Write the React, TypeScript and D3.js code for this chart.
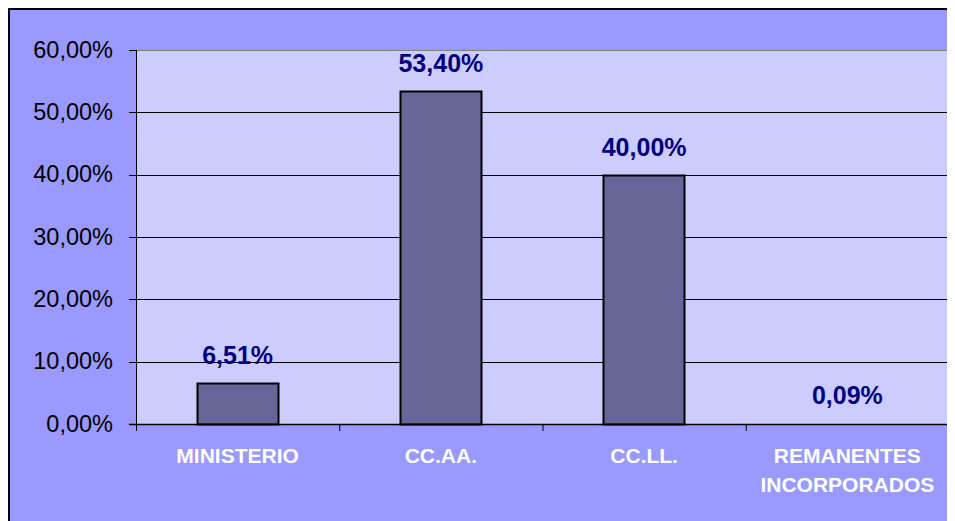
import React from "react";
import * as d3 from "d3";

const categories = ["MINISTERIO", "CC.AA.", "CC.LL.", "REMANENTES\nINCORPORADOS"];
const values = [0.0651, 0.534, 0.4, 0.0009];
const valueLabels = ["6,51%", "53,40%", "40,00%", "0,09%"];
const yTicks = [0, 0.1, 0.2, 0.3, 0.4, 0.5, 0.6];
const yTickLabels = ["0,00%", "10,00%", "20,00%", "30,00%", "40,00%", "50,00%", "60,00%"];

const W = 947;
const H = 513;
const left = 128; // plot left relative to svg (page x 136)
const right = 941; // page x 949
const top = 42; // page y 50
const bottom = 416; // page y 424
const font = "'Liberation Sans', Arial, sans-serif";

export default function App() {
  const x = d3.scaleBand<string>().domain(categories).range([left, right]).paddingInner(0.6).paddingOuter(0.3);
  const y = d3.scaleLinear().domain([0, 0.6]).range([bottom, top]);
  const step = x.step();
  return (
    <svg width={W} height={H} style={{ display: "block" }}>
      <rect x={1} y={1} width={W + 20} height={H + 20} fill="#9999ff" stroke="#000" strokeWidth={2} />
      <rect x={left} y={top} width={right - left} height={bottom - top} fill="#ccccff" />
      {yTicks.map((t, i) => (
        <g key={i}>
          {t > 0 && t < 0.6 && (
            <line x1={left} x2={right} y1={Math.round(y(t)) + 0.5} y2={Math.round(y(t)) + 0.5} stroke="#000" strokeWidth={1} />
          )}
          <line x1={left - 7} x2={left} y1={Math.round(y(t)) + 0.5} y2={Math.round(y(t)) + 0.5} stroke="#000" />
          <text x={left - 23} y={y(t) + 7.5} textAnchor="end" fontFamily={font} fontSize={23.5} fill="#000">
            {yTickLabels[i]}
          </text>
        </g>
      ))}
      <line x1={left} x2={right} y1={top + 0.5} y2={top + 0.5} stroke="#808080" />
      <line x1={right - 0.5} x2={right - 0.5} y1={top} y2={bottom} stroke="#808080" />
      {categories.map((c, i) => {
        const bx = x(c)!;
        const bw = x.bandwidth();
        const by = y(values[i]);
        return (
          <g key={c}>
            {values[i] > 0.002 && (
              <rect x={Math.round(bx) + 0.5} y={Math.round(by) + 0.5} width={Math.round(bw)} height={bottom - Math.round(by)} fill="#666699" stroke="#000" strokeWidth={2} />
            )}
            <text x={bx + bw / 2} y={by - 19} textAnchor="middle" fontFamily={font} fontWeight="bold" fontSize={25} fill="#000080">
              {valueLabels[i]}
            </text>
            {c.split("\n").map((line, j) => (
              <text key={j} x={bx + bw / 2} y={455 + j * 29} textAnchor="middle" fontFamily={font} fontWeight="bold" fontSize={21} fill="#ffffff">
                {line}
              </text>
            ))}
          </g>
        );
      })}
      {d3.range(categories.length + 1).map((i) => (
        <line key={i} x1={left + i * step + 0.5} x2={left + i * step + 0.5} y1={bottom} y2={bottom + 7} stroke="#000" />
      ))}
      <line x1={left + 0.5} x2={left + 0.5} y1={top} y2={bottom + 7} stroke="#000" />
      <line x1={left - 7} x2={right} y1={bottom + 0.5} y2={bottom + 0.5} stroke="#000" strokeWidth={1.5} />
    </svg>
  );
}
